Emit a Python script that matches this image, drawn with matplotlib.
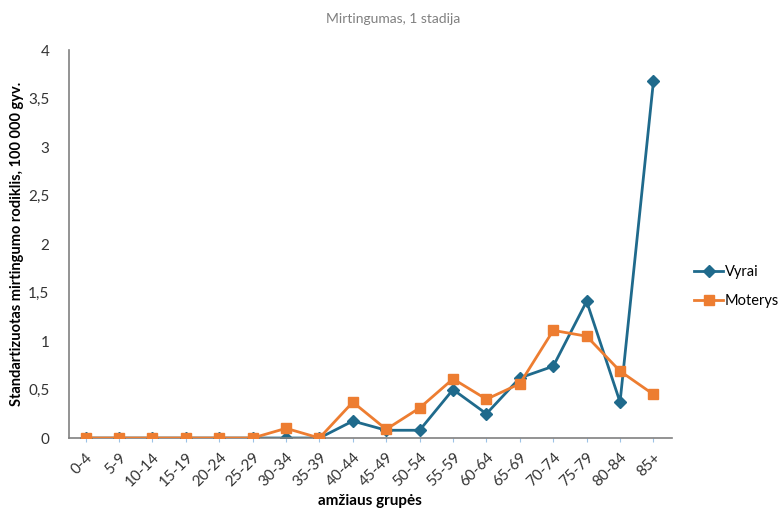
import matplotlib
matplotlib.use("Agg")
import matplotlib.pyplot as plt
import numpy as np

# amžiaus grupės ir rodikliai
grupes = ["0-4", "5-9", "10-14", "15-19", "20-24", "25-29", "30-34", "35-39",
          "40-44", "45-49", "50-54", "55-59", "60-64", "65-69", "70-74",
          "75-79", "80-84", "85+"]
vyrai = [0, 0, 0, 0, 0, 0, 0, 0, 0.175, 0.08, 0.08, 0.50, 0.25, 0.62,
         0.74, 1.41, 0.37, 3.68]
moterys = [0, 0, 0, 0, 0, 0, 0.10, 0, 0.37, 0.09, 0.31, 0.61, 0.40, 0.56,
           1.11, 1.05, 0.69, 0.45]

plt.rcParams['font.family'] = ['Lato', 'DejaVu Sans']

fig = plt.figure(figsize=(7.83, 5.12), dpi=100)
ax = fig.add_axes([0.088, 0.1445, 0.77, 0.7575])

x = np.arange(len(grupes))
ax.plot(x, vyrai, color="#1F6A8C", lw=2, marker="D", ms=6, label="Vyrai", zorder=2)
ax.plot(x, moterys, color="#ED7D31", lw=2, marker="s", ms=7, label="Moterys", zorder=3)

ax.set_xlim(-0.5, len(grupes) - 0.45)
ax.set_ylim(0, 4)
ax.set_yticks(np.arange(0, 4.01, 0.5))
ax.set_yticklabels(["0", "0,5", "1", "1,5", "2", "2,5", "3", "3,5", "4"])
ax.set_xticks(x)
ax.set_xticklabels(grupes, rotation=45, ha="right", rotation_mode="anchor")
ax.tick_params(axis="y", length=0, labelsize=11, pad=14, colors="#333333")
ax.tick_params(axis="x", length=3, color="#9DC3E6", labelsize=11, pad=6, colors="#333333")

for side in ["top", "right"]:
    ax.spines[side].set_visible(False)
for side in ["left", "bottom"]:
    ax.spines[side].set_color("#808080")
    ax.spines[side].set_linewidth(1.2)

ax.set_xlabel("amžiaus grupės", fontsize=11, fontweight="bold", labelpad=3)
ax.set_ylabel("Standartizuotas mirtingumo rodiklis, 100 000 gyv.", fontsize=10.5,
              fontweight="bold", labelpad=3)
fig.text(0.502, 0.963, "Mirtingumas, 1 stadija", ha="center", va="center",
         fontsize=10, color="#808080")

ax.legend(loc="center left", bbox_to_anchor=(1.015, 0.39), frameon=False,
          fontsize=10.5, handlelength=2.0, handletextpad=0.1, labelspacing=1.0)

fig.savefig("out.png", dpi=100)
